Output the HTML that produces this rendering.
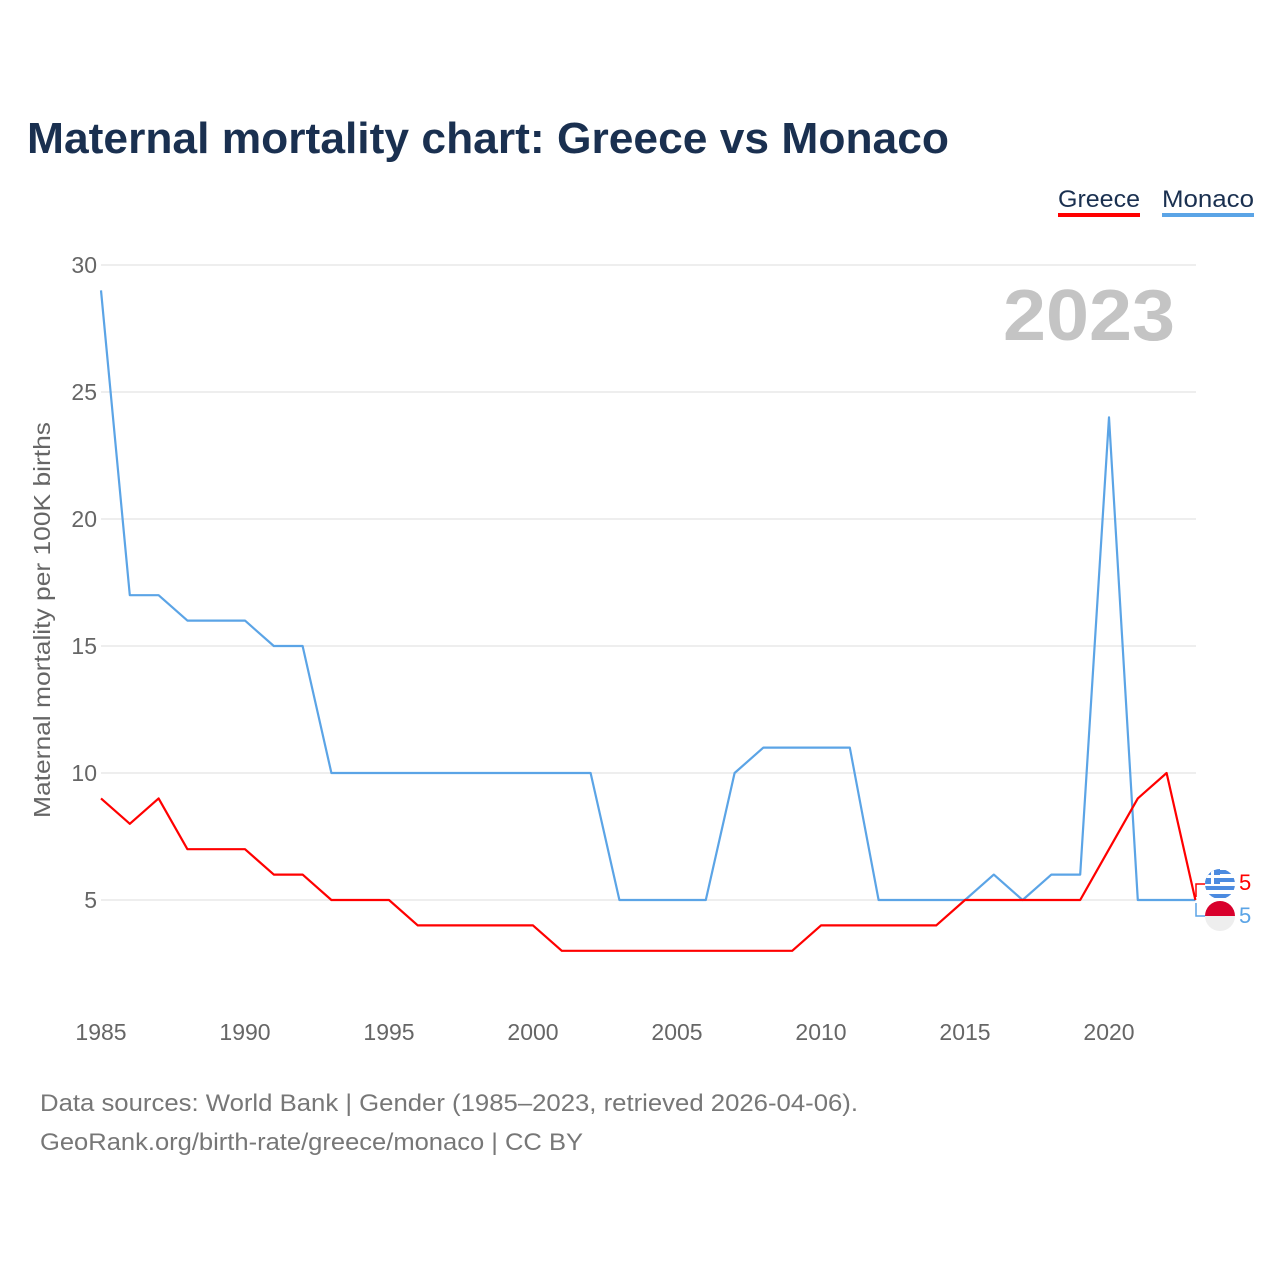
<!DOCTYPE html>
<html><head><meta charset="utf-8"><style>
body{margin:0;background:#fff;font-family:"Liberation Sans",sans-serif}
</style></head><body>
<svg id="chart" width="1280" height="1280" xmlns="http://www.w3.org/2000/svg">
<text x="27" y="153" font-size="44" font-weight="bold" fill="#1a3050" textLength="922" lengthAdjust="spacingAndGlyphs">Maternal mortality chart: Greece vs Monaco</text>
<g>
<text x="1058" y="207" font-size="24" fill="#1a3050" textLength="82" lengthAdjust="spacingAndGlyphs">Greece</text>
<rect x="1058" y="213" width="82" height="4" fill="#ff0000"/>
<text x="1162" y="207" font-size="24" fill="#1a3050" textLength="92" lengthAdjust="spacingAndGlyphs">Monaco</text>
<rect x="1162" y="213" width="92" height="4" fill="#5ba4e6"/>
</g>
<text x="1175" y="340" font-size="72" font-weight="bold" fill="#c4c4c4" text-anchor="end" textLength="172" lengthAdjust="spacingAndGlyphs">2023</text>
<text transform="translate(50,620) rotate(-90)" font-size="23" fill="#666" text-anchor="middle" textLength="396" lengthAdjust="spacingAndGlyphs">Maternal mortality per 100K births</text>
<g id="grid"></g><g id="lines"></g>
<g>
<path d="M1206 884 H1196 V897" stroke="#ff0000" stroke-width="1.5" fill="none"/>
<path d="M1196 903 V916 H1206" stroke="#5ba4e6" stroke-width="1.5" fill="none"/>
<clipPath id="cg"><circle cx="1220" cy="884" r="15"/></clipPath>
<g clip-path="url(#cg)">
<rect x="1205" y="869" width="30" height="30" fill="#fff"/>
<rect x="1205" y="870" width="30" height="4" fill="#4c8be0"/><rect x="1205" y="878" width="30" height="4" fill="#4c8be0"/><rect x="1205" y="886" width="30" height="4" fill="#4c8be0"/><rect x="1205" y="894" width="30" height="4" fill="#4c8be0"/>
<rect x="1205" y="869" width="15" height="15" fill="#4c8be0"/><rect x="1205" y="875" width="15" height="3" fill="#fff"/><rect x="1211" y="869" width="3" height="15" fill="#fff"/>
</g>
<clipPath id="cm"><circle cx="1220" cy="916" r="15"/></clipPath>
<g clip-path="url(#cm)">
<rect x="1205" y="901" width="30" height="15" fill="#d8002c"/><rect x="1205" y="916" width="30" height="15" fill="#eee"/>
</g>
<text x="1239" y="890" font-size="22" fill="#ff0000">5</text>
<text x="1239" y="923" font-size="22" fill="#5ba4e6">5</text>
</g>
<text x="40" y="1111" font-size="24" fill="#777" textLength="818" lengthAdjust="spacingAndGlyphs">Data sources: World Bank | Gender (1985–2023, retrieved 2026-04-06).</text>
<text x="40" y="1150" font-size="24" fill="#777" textLength="543" lengthAdjust="spacingAndGlyphs">GeoRank.org/birth-rate/greece/monaco | CC BY</text>
</svg>
<script>
const years=[1985,1986,1987,1988,1989,1990,1991,1992,1993,1994,1995,1996,1997,1998,1999,2000,2001,2002,2003,2004,2005,2006,2007,2008,2009,2010,2011,2012,2013,2014,2015,2016,2017,2018,2019,2020,2021,2022,2023];
const greece=[9,8,9,7,7,7,6,6,5,5,5,4,4,4,4,4,3,3,3,3,3,3,3,3,3,4,4,4,4,4,5,5,5,5,5,7,9,10,5];
const monaco=[29,17,17,16,16,16,15,15,10,10,10,10,10,10,10,10,10,10,5,5,5,5,10,11,11,11,11,5,5,5,5,6,5,6,6,24,5,5,5];
const yTicks=[5,10,15,20,25,30];
const xTicks=[1985,1990,1995,2000,2005,2010,2015,2020];
const X=y=>101+(y-1985)*28.8;
const Y=v=>1027-v*25.4;
const NS="http://www.w3.org/2000/svg";
const grid=document.getElementById('grid'),lines=document.getElementById('lines');
function mk(tag,attrs,parent){const e=document.createElementNS(NS,tag);for(const k in attrs)e.setAttribute(k,attrs[k]);parent.appendChild(e);return e;}
yTicks.forEach(t=>{
  const l=mk('line',{x1:101,x2:1196,y1:Y(t),y2:Y(t),stroke:'#e8e8e8','stroke-width':1.5},grid);
  
  
  const tx=mk('text',{x:97,y:Y(t)+8,'font-size':23,fill:'#666','text-anchor':'end'},grid);
  tx.textContent=t;
  
  
});
xTicks.forEach(t=>{
  const tx=mk('text',{x:X(t),y:1040,'font-size':23,fill:'#666','text-anchor':'middle'},grid);
  tx.textContent=t;
  
  
});
function series(vals,color,name){
  const d=vals.map((v,i)=>(i?'L':'M')+X(years[i])+' '+Y(v)).join(' ');
  const p=mk('path',{d:d,fill:'none',stroke:color,'stroke-width':2.2,'stroke-linejoin':'round'},lines);
  
  
}
series(monaco,'#5ba4e6','monaco-line');
series(greece,'#ff0000','greece-line');
</script>
</body></html>
